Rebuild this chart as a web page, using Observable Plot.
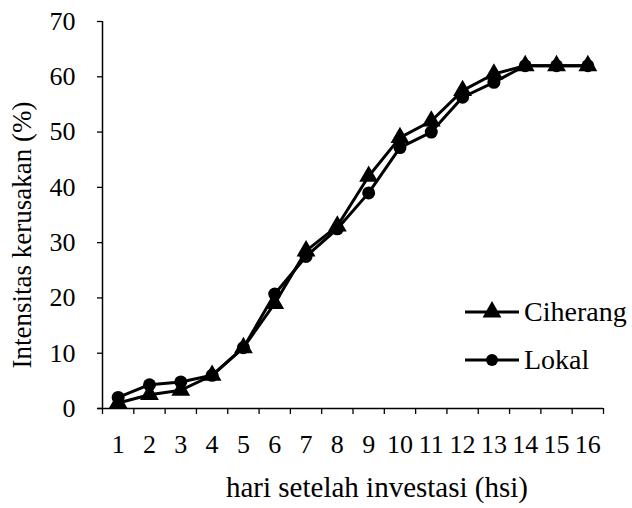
<!DOCTYPE html>
<html>
<head>
<meta charset="utf-8">
<script src="https://cdn.jsdelivr.net/npm/d3@7"></script>
<script src="https://cdn.jsdelivr.net/npm/@observablehq/plot@0.6"></script>
<style>
  html, body { margin: 0; padding: 0; background: #fff; }
  #wrap { position: relative; width: 632px; height: 508px; font-family: "Liberation Serif", "Times New Roman", serif; }
  #legend { position: absolute; left: 465px; top: 288px; font-size: 28px; color: #000; line-height: 1; }
  #legend .row { display: flex; align-items: center; height: 48px; }
  #legend svg { display: block; margin-right: 5px; }
</style>
</head>
<body>
<div id="wrap"></div>
<script>
const days = d3.range(1, 17);
const ciherang = [1, 2.5, 3.3, 6, 11, 19, 28.5, 33, 42, 49, 52, 57.5, 60.5, 62, 62, 62];
const lokal = [2, 4.3, 4.8, 6, 11, 20.7, 27.5, 32.5, 39, 47.2, 50, 56.3, 59, 62, 62, 62];
const yTicks = [0, 10, 20, 30, 40, 50, 60, 70];
const xTitle = "hari setelah investasi (hsi)";
const yTitle = "Intensitas kerusakan (%)";
const seriesNames = ["Ciherang", "Lokal"];
const symbols = ["triangle", "circle"];

const rows = [];
days.forEach((d, i) => {
  rows.push({day: d, value: ciherang[i], series: seriesNames[0]});
  rows.push({day: d, value: lokal[i], series: seriesNames[1]});
});
const bounds = d3.range(0.5, 17, 1);
const font = "'Liberation Serif', 'Times New Roman', serif";

const chart = Plot.plot({
  width: 632,
  height: 508,
  marginLeft: 102,
  marginRight: 29,
  marginTop: 21,
  marginBottom: 100,
  style: {fontFamily: font, color: "#000", background: "#fff"},
  x: {type: "linear", domain: [0.5, 16.5]},
  y: {domain: [0, 70]},
  marks: [
    Plot.axisY({ticks: yTicks, tickSize: 5, tickPadding: 22, fontSize: 26, label: null, strokeWidth: 1.3}),
    Plot.axisX({ticks: bounds, tickSize: 6, tickFormat: () => "", label: null, strokeWidth: 1.3}),
    Plot.axisX({ticks: days, tickSize: 0, tickPadding: 26, fontSize: 26, label: null}),
    Plot.ruleX([0.5], {y1: 0, y2: 70, strokeWidth: 1.5}),
    Plot.ruleY([0], {x1: 0.35, x2: 16.5, strokeWidth: 1.5}),
    Plot.text([xTitle], {frameAnchor: "bottom", lineAnchor: "top", dx: 24, dy: 68, fontSize: 29}),
    Plot.text([yTitle], {frameAnchor: "left", textAnchor: "middle", rotate: -90, dx: -80, dy: 20, fontSize: 27}),
    Plot.line(rows, {x: "day", y: "value", z: "series", stroke: "#000", strokeWidth: 3}),
    Plot.dot(rows.filter(r => r.series === seriesNames[1]), {x: "day", y: "value", symbol: "circle", r: 6.5, fill: "#000"}),
    Plot.dot(rows.filter(r => r.series === seriesNames[0]), {x: "day", y: "value", symbol: "triangle", r: 7, fill: "#000"})
  ]
});
const wrap = document.getElementById("wrap");
wrap.appendChild(chart);

const legend = document.createElement("div");
legend.id = "legend";
seriesNames.forEach((name, i) => {
  const row = document.createElement("div");
  row.className = "row";
  const sym = symbols[i] === "triangle"
    ? '<path d="' + d3.symbol(d3.symbolTriangle, 7 * 7 * Math.PI)() + '" transform="translate(27,12)" fill="#000"/>'
    : '<circle cx="27" cy="12" r="6" fill="#000"/>';
  row.innerHTML = '<svg width="54" height="24"><line x1="0" x2="54" y1="12" y2="12" stroke="#000" stroke-width="3"/>' + sym + '</svg><span>' + name + '</span>';
  legend.appendChild(row);
});
wrap.appendChild(legend);
</script>
</body>
</html>
